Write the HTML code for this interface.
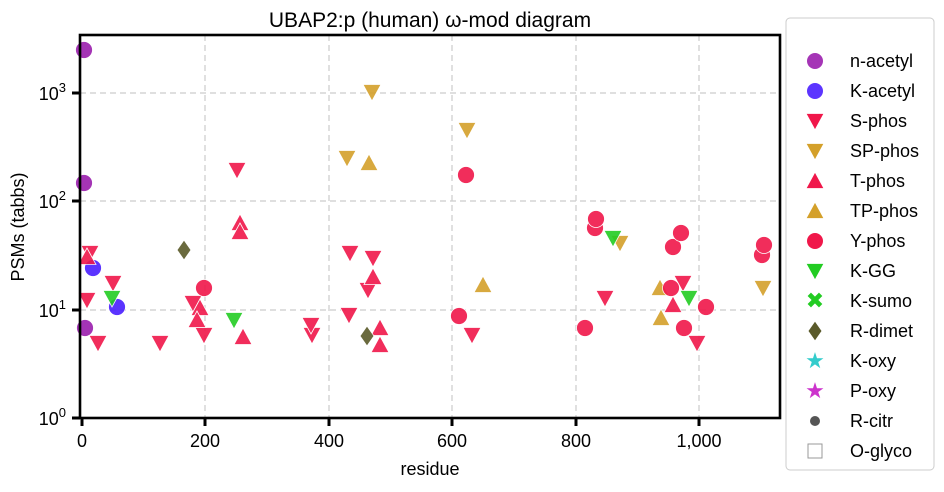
<!DOCTYPE html>
<html><head><meta charset="utf-8"><style>
body{margin:0;background:#fff;}
svg{display:block;font-family:"Liberation Sans","DejaVu Sans",sans-serif;}
</style></head><body>
<svg width="944" height="492" viewBox="0 0 944 492" xmlns="http://www.w3.org/2000/svg">
<defs>
<g id="dn"><polygon points="-9,-7.5 9,-7.5 0,9" stroke="#fff" stroke-width="0.8"/></g>
<g id="up"><polygon points="-9,7.5 9,7.5 0,-9" stroke="#fff" stroke-width="0.8"/></g>
<g id="ci"><circle r="8.5" stroke="#fff" stroke-width="0.8"/></g>
<g id="di"><polygon points="0,-10 7,0 0,10 -7,0" stroke="#fff" stroke-width="0.8"/></g>
</defs>
<rect width="944" height="492" fill="#fff"/>
<g stroke="#ccc" stroke-width="1.2" stroke-dasharray="6,4">
<line x1="205" y1="35" x2="205" y2="418"/><line x1="329" y1="35" x2="329" y2="418"/>
<line x1="452" y1="35" x2="452" y2="418"/><line x1="576" y1="35" x2="576" y2="418"/>
<line x1="699" y1="35" x2="699" y2="418"/>
<line x1="80" y1="93" x2="780" y2="93"/><line x1="80" y1="201" x2="780" y2="201"/>
<line x1="80" y1="310" x2="780" y2="310"/>
</g>
<g fill="#9b1fae" opacity="0.9"><use href="#ci" x="84" y="50"/><use href="#ci" x="84" y="183"/><use href="#ci" x="85" y="328"/></g>
<g fill="#4a1fff" opacity="0.9"><use href="#ci" x="93" y="268"/><use href="#ci" x="117" y="307"/></g>
<g fill="#d4a02a" opacity="0.9">
<use href="#dn" x="372" y="92"/><use href="#dn" x="467" y="130"/><use href="#dn" x="347" y="158"/>
<use href="#dn" x="620" y="243"/><use href="#dn" x="763" y="288"/>
<use href="#up" x="369" y="163"/><use href="#up" x="483" y="285"/><use href="#up" x="660" y="288"/><use href="#up" x="661" y="318"/>
</g>
<g fill="#f0174a" opacity="0.9">
<use href="#dn" x="237" y="170"/><use href="#dn" x="90" y="253"/><use href="#dn" x="113" y="283"/><use href="#dn" x="87" y="300"/>
<use href="#dn" x="98" y="343"/><use href="#dn" x="160" y="343"/><use href="#dn" x="193" y="303"/><use href="#dn" x="204" y="335"/>
<use href="#dn" x="312" y="335"/><use href="#dn" x="311" y="325"/><use href="#dn" x="350" y="253"/><use href="#dn" x="373" y="258"/>
<use href="#dn" x="368" y="290"/><use href="#dn" x="349" y="315"/><use href="#dn" x="472" y="335"/><use href="#dn" x="605" y="298"/>
<use href="#dn" x="683" y="283"/><use href="#dn" x="697" y="343"/>
<use href="#up" x="240" y="223"/><use href="#up" x="240" y="232"/><use href="#up" x="87" y="257"/><use href="#up" x="200" y="308"/>
<use href="#up" x="197" y="320"/><use href="#up" x="243" y="337"/><use href="#up" x="373" y="277"/><use href="#up" x="380" y="328"/>
<use href="#up" x="380" y="345"/><use href="#up" x="673" y="305"/>
<use href="#ci" x="204" y="288"/><use href="#ci" x="466" y="175"/><use href="#ci" x="595" y="228"/><use href="#ci" x="596" y="219"/>
<use href="#ci" x="673" y="247"/><use href="#ci" x="681" y="233"/><use href="#ci" x="762" y="255"/><use href="#ci" x="764" y="245"/>
<use href="#ci" x="671" y="288"/><use href="#ci" x="706" y="307"/><use href="#ci" x="459" y="316"/><use href="#ci" x="585" y="328"/>
<use href="#ci" x="684" y="328"/>
</g>
<g fill="#22cc22" opacity="0.9"><use href="#dn" x="112" y="298"/><use href="#dn" x="234" y="320"/><use href="#dn" x="613" y="238"/><use href="#dn" x="689" y="298"/></g>
<g fill="#5a5a2a" opacity="0.9"><use href="#di" x="184" y="250"/><use href="#di" x="367" y="336"/></g>
<rect x="80" y="35" width="700" height="383" fill="none" stroke="#000" stroke-width="2.6"/>
<g stroke="#000" stroke-width="3">
<line x1="72" y1="93" x2="80" y2="93"/><line x1="72" y1="201" x2="80" y2="201"/><line x1="72" y1="310" x2="80" y2="310"/><line x1="72" y1="418" x2="80" y2="418"/>
<line x1="82" y1="418" x2="82" y2="426"/><line x1="205" y1="418" x2="205" y2="426"/><line x1="329" y1="418" x2="329" y2="426"/>
<line x1="452" y1="418" x2="452" y2="426"/><line x1="576" y1="418" x2="576" y2="426"/><line x1="699" y1="418" x2="699" y2="426"/>
</g>
<g font-size="18" fill="#000">
<text x="66" y="100" text-anchor="end">10<tspan font-size="13" dy="-8">3</tspan></text>
<text x="66" y="208" text-anchor="end">10<tspan font-size="13" dy="-8">2</tspan></text>
<text x="66" y="317" text-anchor="end">10<tspan font-size="13" dy="-8">1</tspan></text>
<text x="66" y="425" text-anchor="end">10<tspan font-size="13" dy="-8">0</tspan></text>
<g text-anchor="middle"><text x="82" y="447">0</text><text x="205" y="447">200</text><text x="329" y="447">400</text><text x="452" y="447">600</text><text x="576" y="447">800</text><text x="699" y="447">1,000</text></g>
<text x="430" y="475" text-anchor="middle">residue</text>
<text x="24" y="227" text-anchor="middle" transform="rotate(-90 24 227)">PSMs (tabbs)</text>
<text x="430" y="27" text-anchor="middle" font-size="21">UBAP2:p (human) ω-mod diagram</text>
</g>
<rect x="786" y="18" width="148" height="452" rx="4" fill="#fff" stroke="#ccc" stroke-width="1"/>
<g font-size="18" fill="#000">
<circle cx="815" cy="61" r="8" fill="#9b1fae" opacity="0.9"/><text x="850" y="67">n-acetyl</text>
<circle cx="815" cy="91" r="8" fill="#4a1fff" opacity="0.9"/><text x="850" y="97">K-acetyl</text>
<use href="#dn" x="815" y="121" fill="#f0174a"/><text x="850" y="127">S-phos</text>
<use href="#dn" x="815" y="151" fill="#d4a02a"/><text x="850" y="157">SP-phos</text>
<use href="#up" x="815" y="181" fill="#f0174a"/><text x="850" y="187">T-phos</text>
<use href="#up" x="815" y="211" fill="#d4a02a"/><text x="850" y="217">TP-phos</text>
<circle cx="815" cy="241" r="8" fill="#f0174a"/><text x="850" y="247">Y-phos</text>
<use href="#dn" x="815" y="271" fill="#22cc22"/><text x="850" y="277">K-GG</text>
<text x="815" y="308" text-anchor="middle" fill="#22cc22" font-size="22" font-weight="bold">✖</text><text x="850" y="307">K-sumo</text>
<use href="#di" x="815" y="331" fill="#5a5a2a"/><text x="850" y="337">R-dimet</text>
<text x="815" y="368" text-anchor="middle" fill="#33cccc" font-size="22">★</text><text x="850" y="367">K-oxy</text>
<text x="815" y="398" text-anchor="middle" fill="#cc33cc" font-size="22">★</text><text x="850" y="397">P-oxy</text>
<circle cx="815" cy="421" r="5" fill="#555"/><text x="850" y="427">R-citr</text>
<rect x="808" y="444" width="14" height="14" fill="none" stroke="#999"/><text x="850" y="457">O-glyco</text>
</g>
</svg>
</body></html>
